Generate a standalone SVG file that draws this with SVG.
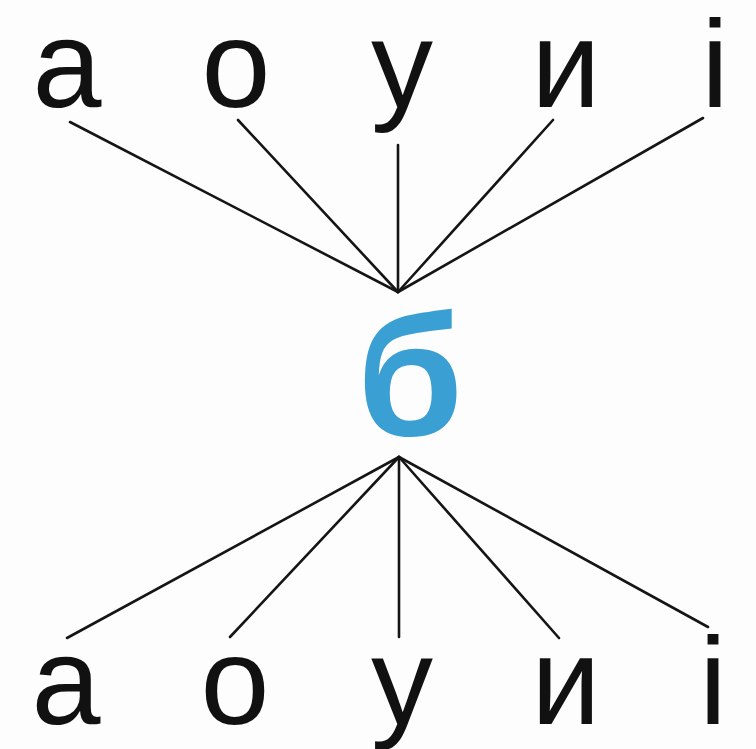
<svg xmlns="http://www.w3.org/2000/svg" width="756" height="749" viewBox="0 0 756 749">
<style>
.l{font-family:"Liberation Sans",Arial,sans-serif;font-size:124px;fill:#111;text-anchor:middle}
.c{font-family:"Liberation Sans",Arial,sans-serif;font-weight:bold;font-size:172px;fill:#3a9fd2;text-anchor:middle}
.e{stroke:#151515;stroke-width:2.6;fill:none;stroke-linecap:round}
</style>
<rect width="756" height="749" fill="#fdfdfd"/>
<g id="connectors">
<line class="e" x1="70" y1="122" x2="398" y2="292"/>
<line class="e" x1="238" y1="120" x2="398" y2="292"/>
<line class="e" x1="398" y1="145" x2="398" y2="292"/>
<line class="e" x1="553" y1="120" x2="398" y2="292"/>
<line class="e" x1="703" y1="118" x2="398" y2="292"/>
<line class="e" x1="67" y1="638" x2="399" y2="457"/>
<line class="e" x1="230" y1="637" x2="399" y2="457"/>
<line class="e" x1="399" y1="637" x2="399" y2="457"/>
<line class="e" x1="559" y1="638" x2="399" y2="457"/>
<line class="e" x1="708" y1="627" x2="399" y2="457"/>
</g>
<g id="top-a"><text class="l" x="67" y="107">а</text></g>
<g id="top-o"><text class="l" x="236" y="107">о</text></g>
<g id="top-u"><text class="l" x="402" y="107">у</text></g>
<g id="top-y"><text class="l" x="566" y="107">и</text></g>
<g id="top-i"><text class="l" x="715" y="107">і</text></g>
<g id="center-b"><text class="c" x="410" y="435">б</text></g>
<g id="bot-a"><text class="l" x="66" y="724">а</text></g>
<g id="bot-o"><text class="l" x="235" y="724">о</text></g>
<g id="bot-u"><text class="l" x="402" y="724">у</text></g>
<g id="bot-y"><text class="l" x="566" y="724">и</text></g>
<g id="bot-i"><text class="l" x="713" y="724">і</text></g>
</svg>
